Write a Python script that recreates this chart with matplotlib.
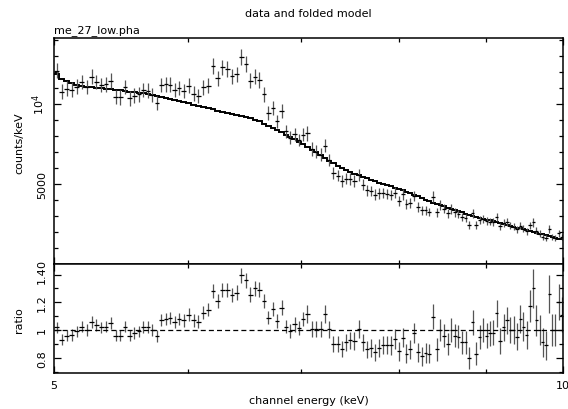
import numpy as np
import matplotlib
matplotlib.use("Agg")
import matplotlib.pyplot as plt
from matplotlib.ticker import FixedLocator, MultipleLocator, NullFormatter

plt.rcParams['font.family'] = ['DejaVu Sans']
plt.rcParams['font.size'] = 8
plt.rcParams['mathtext.default'] = 'regular'

# channel bin edges (keV)
edges = np.array([
    5.000, 5.035, 5.070, 5.105, 5.140, 5.175, 5.210, 5.245, 5.280, 5.315,
    5.350, 5.385, 5.420, 5.455, 5.490, 5.525, 5.560, 5.595, 5.630, 5.665,
    5.700, 5.735, 5.770, 5.805, 5.840, 5.875, 5.910,
    5.945, 5.986, 6.026, 6.067, 6.107, 6.148, 6.188, 6.229, 6.269, 6.310,
    6.350, 6.391, 6.431, 6.472, 6.512, 6.553, 6.593, 6.634, 6.674, 6.715,
    6.755, 6.796, 6.836, 6.877, 6.917, 6.958, 6.998,
    7.039, 7.081, 7.124, 7.166, 7.209, 7.251, 7.294, 7.336, 7.379, 7.421,
    7.464, 7.506, 7.549, 7.591, 7.634, 7.676, 7.719, 7.761, 7.804, 7.846,
    7.889, 7.931, 7.974, 8.016, 8.059, 8.101, 8.144, 8.186, 8.229, 8.271, 8.314,
    8.357, 8.399, 8.441, 8.484, 8.526, 8.568, 8.610, 8.652, 8.694, 8.737,
    8.779, 8.821, 8.863, 8.905, 8.948, 8.990, 9.032, 9.074, 9.116, 9.159,
    9.201, 9.243, 9.285, 9.327, 9.370, 9.412, 9.454, 9.496, 9.538, 9.581,
    9.623, 9.665, 9.707, 9.749, 9.792, 9.834, 9.876, 9.918, 9.960, 10.000])

# folded model, counts/keV per bin
model = np.array([
    11860, 11570, 11420, 11300, 11200, 11110, 11070, 11040, 11010, 10980,
    10950, 10920, 10880, 10850, 10810, 10780, 10740, 10710, 10660, 10620,
    10570, 10520, 10460, 10400, 10330, 10260, 10190,
    10120, 10040, 9960, 9890, 9820, 9740, 9670, 9590, 9530, 9460,
    9400, 9330, 9270, 9200, 9130, 9010, 8910, 8770, 8640, 8500,
    8370, 8230, 8090, 7930, 7790, 7640, 7490,
    7320, 7150, 6980, 6810, 6640, 6470, 6300, 6140, 5990, 5860,
    5740, 5640, 5550, 5450, 5350, 5250, 5170, 5080, 5000, 4930,
    4850, 4770, 4690, 4600, 4520, 4420, 4330, 4230, 4130, 4020, 3920,
    3830, 3750, 3680, 3600, 3520, 3440, 3370, 3290, 3220, 3140,
    3070, 3010, 2950, 2890, 2830, 2780, 2720, 2660, 2610, 2550,
    2500, 2440, 2390, 2330, 2270, 2220, 2160, 2110, 2050, 2000,
    1950, 1900, 1850, 1800, 1750, 1700, 1640, 1590, 1540])

# data / model ratio
ratio = np.array([
    1.02, 0.93, 0.96, 0.965, 0.99, 1.025, 1.0, 1.06, 1.035, 1.02,
    1.025, 1.05, 0.96, 0.96, 1.025, 0.96, 0.98, 0.99, 1.02, 1.02,
    1.0, 0.955, 1.07, 1.08, 1.085, 1.06, 1.08,
    1.07, 1.11, 1.07, 1.06, 1.125, 1.145, 1.28, 1.21, 1.29, 1.29,
    1.25, 1.27, 1.395, 1.36, 1.255, 1.30, 1.29, 1.21, 1.09, 1.15,
    1.065, 1.16, 1.025, 0.995, 1.04, 1.015, 1.08,
    1.115, 1.005, 1.005, 1.005, 1.115, 1.005, 0.90, 0.90, 0.865, 0.91,
    0.925, 0.92, 1.005, 0.91, 0.86, 0.87, 0.84, 0.87, 0.89, 0.89,
    0.89, 0.935, 0.845, 0.945, 0.83, 0.86, 0.98, 0.84, 0.81, 0.835, 0.83,
    1.095, 0.86, 1.0, 0.96, 0.90, 1.0, 0.96, 0.95, 0.91, 0.91,
    0.80, 1.055, 0.83, 0.95, 1.0, 0.96, 0.975, 0.98, 1.12, 0.92,
    1.02, 1.07, 1.0, 1.0, 0.95, 1.08, 1.025, 0.965, 1.175, 1.30,
    1.07, 1.0, 0.91, 0.89, 1.26, 1.0, 1.0, 1.2, 1.11])

ratio_err = np.array([
    0.040, 0.040, 0.040, 0.041, 0.041, 0.041, 0.041, 0.042, 0.041, 0.041,
    0.042, 0.042, 0.041, 0.041, 0.042, 0.041, 0.042, 0.042, 0.043, 0.043,
    0.042, 0.042, 0.044, 0.044, 0.044, 0.044, 0.045,
    0.045, 0.046, 0.045, 0.045, 0.047, 0.047, 0.050, 0.049, 0.051, 0.051,
    0.050, 0.051, 0.054, 0.054, 0.052, 0.053, 0.054, 0.052, 0.050, 0.052,
    0.050, 0.053, 0.050, 0.050, 0.051, 0.051, 0.053,
    0.062, 0.058, 0.059, 0.059, 0.063, 0.060, 0.059, 0.060, 0.059, 0.061,
    0.062, 0.062, 0.066, 0.063, 0.062, 0.063, 0.062, 0.064, 0.066, 0.066,
    0.067, 0.069, 0.066, 0.070, 0.067, 0.068, 0.072, 0.069, 0.068, 0.070, 0.070,
    0.090, 0.080, 0.082, 0.082, 0.080, 0.083, 0.082, 0.083, 0.082, 0.083,
    0.080, 0.090, 0.084, 0.088, 0.090, 0.089, 0.090, 0.091, 0.098, 0.092,
    0.096, 0.099, 0.097, 0.098, 0.097, 0.103, 0.102, 0.100, 0.115, 0.140,
    0.110, 0.108, 0.105, 0.105, 0.140, 0.115, 0.115, 0.130, 0.125])

centre = 0.5 * (edges[:-1] + edges[1:])
xerr = [centre - edges[:-1], edges[1:] - centre]
counts = ratio * model
counts_err = ratio_err * model

fig = plt.figure(figsize=(5.68, 4.10), dpi=100)
ax1 = fig.add_axes([0.0951, 0.3537, 0.8961, 0.5500])
ax2 = fig.add_axes([0.0951, 0.0885, 0.8961, 0.2652])

for ax, y, yerr in [(ax1, counts, counts_err), (ax2, ratio, ratio_err)]:
    ax.errorbar(centre, y, yerr=yerr, fmt='none', ecolor='#555555', elinewidth=0.9)
    ax.errorbar(centre, y, xerr=xerr, fmt='none', ecolor='black', elinewidth=0.9)

ax1.stairs(model, edges, color='black', lw=1.4, baseline=None)
ax2.axhline(1.0, color='black', lw=0.9, ls=(0, (4, 2.5)))

for ax in (ax1, ax2):
    ax.set_xscale('log')
    ax.set_xlim(5, 10)
    ax.xaxis.set_major_locator(FixedLocator([5, 10]))
    ax.xaxis.set_minor_locator(FixedLocator([6, 7, 8, 9]))
    ax.xaxis.set_minor_formatter(NullFormatter())
    ax.tick_params(which='both', direction='in', top=True, right=True, width=0.9)
    ax.tick_params(which='major', length=5)
    ax.tick_params(which='minor', length=3)
    for s in ax.spines.values():
        s.set_linewidth(1.1)

ax1.tick_params(labelbottom=False)
ax2.set_xticks([5, 10], labels=['5', '10'])
ax2.tick_params(axis='x', pad=5)

ax1.set_ylim(0, 14100)
ax1.set_yticks([0, 5000, 10000], labels=['0', '5000', r'$10^4$'], rotation=90, va='center')
ax1.yaxis.set_minor_locator(MultipleLocator(1000))
ax1.tick_params(axis='y', pad=5)

ax2.set_ylim(0.692, 1.476)
ax2.set_yticks([0.8, 1.0, 1.2, 1.4], labels=['0.8', '1', '1.2', '1.4'], rotation=90, va='center')
ax2.yaxis.set_minor_locator(MultipleLocator(0.1))
ax2.tick_params(axis='y', pad=5)

fig.text(308.5 / 568, 1 - 14 / 410, 'data and folded model', ha='center', va='center')
fig.text(54 / 568, 1 - 31 / 410, 'me_27_low.pha', ha='left', va='center')
fig.text(19 / 568, 1 - 143 / 410, 'counts/keV', rotation=90, ha='center', va='center')
fig.text(19 / 568, 1 - 320 / 410, 'ratio', rotation=90, ha='center', va='center')
fig.text(308.5 / 568, 1 - 401 / 410, 'channel energy (keV)', ha='center', va='center')

fig.savefig('out.png', dpi=100)
